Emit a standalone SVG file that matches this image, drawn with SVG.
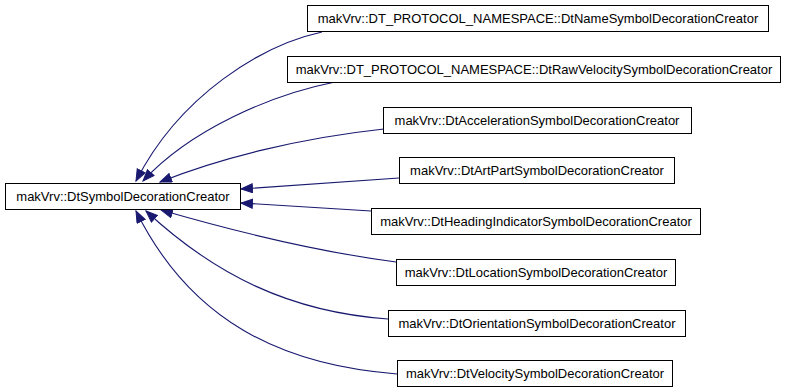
<svg xmlns="http://www.w3.org/2000/svg" width="792" height="392" viewBox="0 0 792 392">
<defs>
<marker id="arr" markerUnits="userSpaceOnUse" markerWidth="14" markerHeight="12" refX="12" refY="5" orient="auto">
<path d="M0.5,0.5 L12,5 L0.5,9.5 z" fill="#191970" stroke="#191970" stroke-width="1"/>
</marker>
<style>
.n rect{fill:#fff;stroke:#000;stroke-width:1}
.n text{font-family:"Liberation Sans",Arial,sans-serif;font-size:13px;fill:#000;text-anchor:middle}
.e path{fill:none;stroke:#191970;stroke-width:1.1;marker-end:url(#arr)}
</style>
</defs>
<rect width="792" height="392" fill="#fff"/>
<g class="e" id="edges">
<path d="M322,32 C262,45 180,95 136,181"/>
<path d="M335,82 C270,95 190,130 143,181"/>
<path d="M384,129 C300,138 220,158 160,182"/>
<path d="M399,178 L241,189"/>
<path d="M371,211 L241,203"/>
<path d="M396,262 C320,252 230,230 161,210"/>
<path d="M388,319 C290,312 215,275 146,211"/>
<path d="M397,374 C280,365 190,320 136,211"/>
</g>
<g class="n" id="base"><rect x="5.5" y="183.5" width="235" height="26"/><text x="123" y="201">makVrv::DtSymbolDecorationCreator</text></g>
<g class="n" id="n1"><rect x="307.5" y="5.5" width="461" height="26"/><text x="538" y="23">makVrv::DT_PROTOCOL_NAMESPACE::DtNameSymbolDecorationCreator</text></g>
<g class="n" id="n2"><rect x="287.5" y="56.5" width="493" height="26"/><text x="534" y="74">makVrv::DT_PROTOCOL_NAMESPACE::DtRawVelocitySymbolDecorationCreator</text></g>
<g class="n" id="n3"><rect x="383.5" y="107.5" width="308" height="26"/><text x="537" y="125">makVrv::DtAccelerationSymbolDecorationCreator</text></g>
<g class="n" id="n4"><rect x="399.5" y="157.5" width="275" height="26"/><text x="537" y="175">makVrv::DtArtPartSymbolDecorationCreator</text></g>
<g class="n" id="n5"><rect x="371.5" y="208.5" width="329" height="26"/><text x="536" y="226">makVrv::DtHeadingIndicatorSymbolDecorationCreator</text></g>
<g class="n" id="n6"><rect x="396.5" y="259.5" width="279" height="26"/><text x="536" y="277">makVrv::DtLocationSymbolDecorationCreator</text></g>
<g class="n" id="n7"><rect x="388.5" y="310.5" width="297" height="26"/><text x="537" y="328">makVrv::DtOrientationSymbolDecorationCreator</text></g>
<g class="n" id="n8"><rect x="397.5" y="360.5" width="275" height="26"/><text x="535" y="378">makVrv::DtVelocitySymbolDecorationCreator</text></g>
</svg>
